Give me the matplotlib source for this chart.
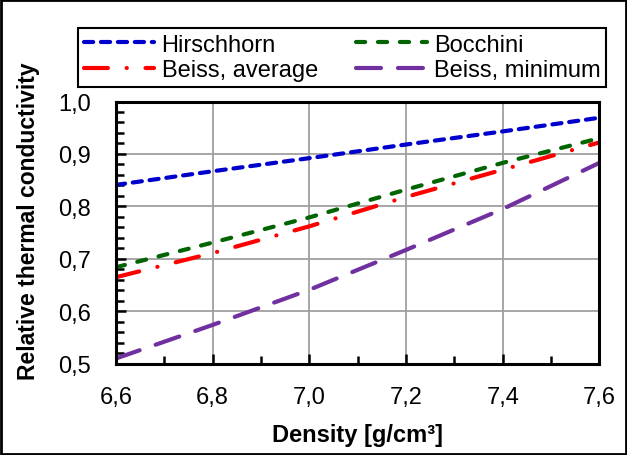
import matplotlib
matplotlib.use("Agg")
import matplotlib.pyplot as plt
from matplotlib.patches import Rectangle
from matplotlib.ticker import MultipleLocator, FuncFormatter

plt.rcParams["font.family"] = ["Liberation Sans", "DejaVu Sans"]
plt.rcParams["lines.scale_dashes"] = False

density = [6.6, 6.8, 7.0, 7.2, 7.4, 7.6]
hirschhorn = [0.841, 0.867, 0.892, 0.918, 0.943, 0.969]
bocchini = [0.684, 0.731, 0.779, 0.832, 0.883, 0.930]
beiss_avg = [0.665, 0.711, 0.762, 0.818, 0.870, 0.922]
beiss_min = [0.510, 0.574, 0.641, 0.717, 0.795, 0.883]

SERIES = [
    ("Hirschhorn", hirschhorn, "#0000cc", (0, (6.6, 5.6))),
    ("Bocchini", bocchini, "#006400", (0, (6.6, 9.2))),
    ("Beiss, average", beiss_avg, "#ff0000", (0, (17.2, 13.5, 0.1, 13.5))),
    ("Beiss, minimum", beiss_min, "#7030a0", (0, (18.0, 12.2))),
]

fig = plt.figure(figsize=(6.27, 4.56), dpi=100)
fig.patch.set_facecolor("white")
ax = fig.add_axes([0.185, 0.2002, 0.771, 0.575])

lines = {}
for label, vals, color, ls in SERIES:
    lines[label], = ax.plot(density, vals, color=color, lw=3.0, linestyle=ls,
                            dash_capstyle="round", label=label)

ax.set_xlim(6.6, 7.6)
ax.set_ylim(0.5, 1.0)
ax.xaxis.set_major_locator(MultipleLocator(0.2))
ax.xaxis.set_minor_locator(MultipleLocator(0.1))
ax.yaxis.set_major_locator(MultipleLocator(0.1))
ax.yaxis.set_minor_locator(MultipleLocator(0.02))
comma = FuncFormatter(lambda v, p: f"{v:.1f}".replace(".", ","))
ax.xaxis.set_major_formatter(comma)
ax.yaxis.set_major_formatter(comma)

ax.grid(which="major", color="#a0a0a0", lw=1.3)
ax.tick_params(which="both", direction="in", width=1.8, labelsize=17,
               top=False, right=False)
ax.tick_params(which="major", length=7)
ax.tick_params(which="minor", length=6)
ax.tick_params(axis="y", pad=18)
ax.tick_params(axis="x", pad=16)
for sp in ax.spines.values():
    sp.set_linewidth(2.2)
    sp.set_color("black")

fig.text(0.045, 1 - 221.5 / 456, "Relative thermal conductivity",
         rotation=90, ha="center", va="center", fontsize=16.5,
         fontweight="bold")
fig.text(358 / 627, 1 - 436 / 456, "Density [g/cm³]", ha="center",
         va="center", fontsize=17, fontweight="bold")

# legend filled row by row, as in the original
order = ["Hirschhorn", "Beiss, average", "Bocchini", "Beiss, minimum"]
leg = fig.legend([lines[k] for k in order], order,
                 loc="lower left", bbox_to_anchor=(0.124, 0.807, 0.843, 0.145),
                 ncol=2, mode="expand", fontsize=17, frameon=True,
                 fancybox=False, edgecolor="black", framealpha=1,
                 handlelength=3.0, handletextpad=0.3, labelspacing=0.15,
                 borderpad=0.25, borderaxespad=0, columnspacing=0.5)
leg.get_frame().set_linewidth(1.5)

fig.patches.append(Rectangle((0.002, 0.003), 0.996, 0.994,
                             transform=fig.transFigure, fill=False,
                             edgecolor="black", lw=2))

fig.savefig("out.png", dpi=100)
